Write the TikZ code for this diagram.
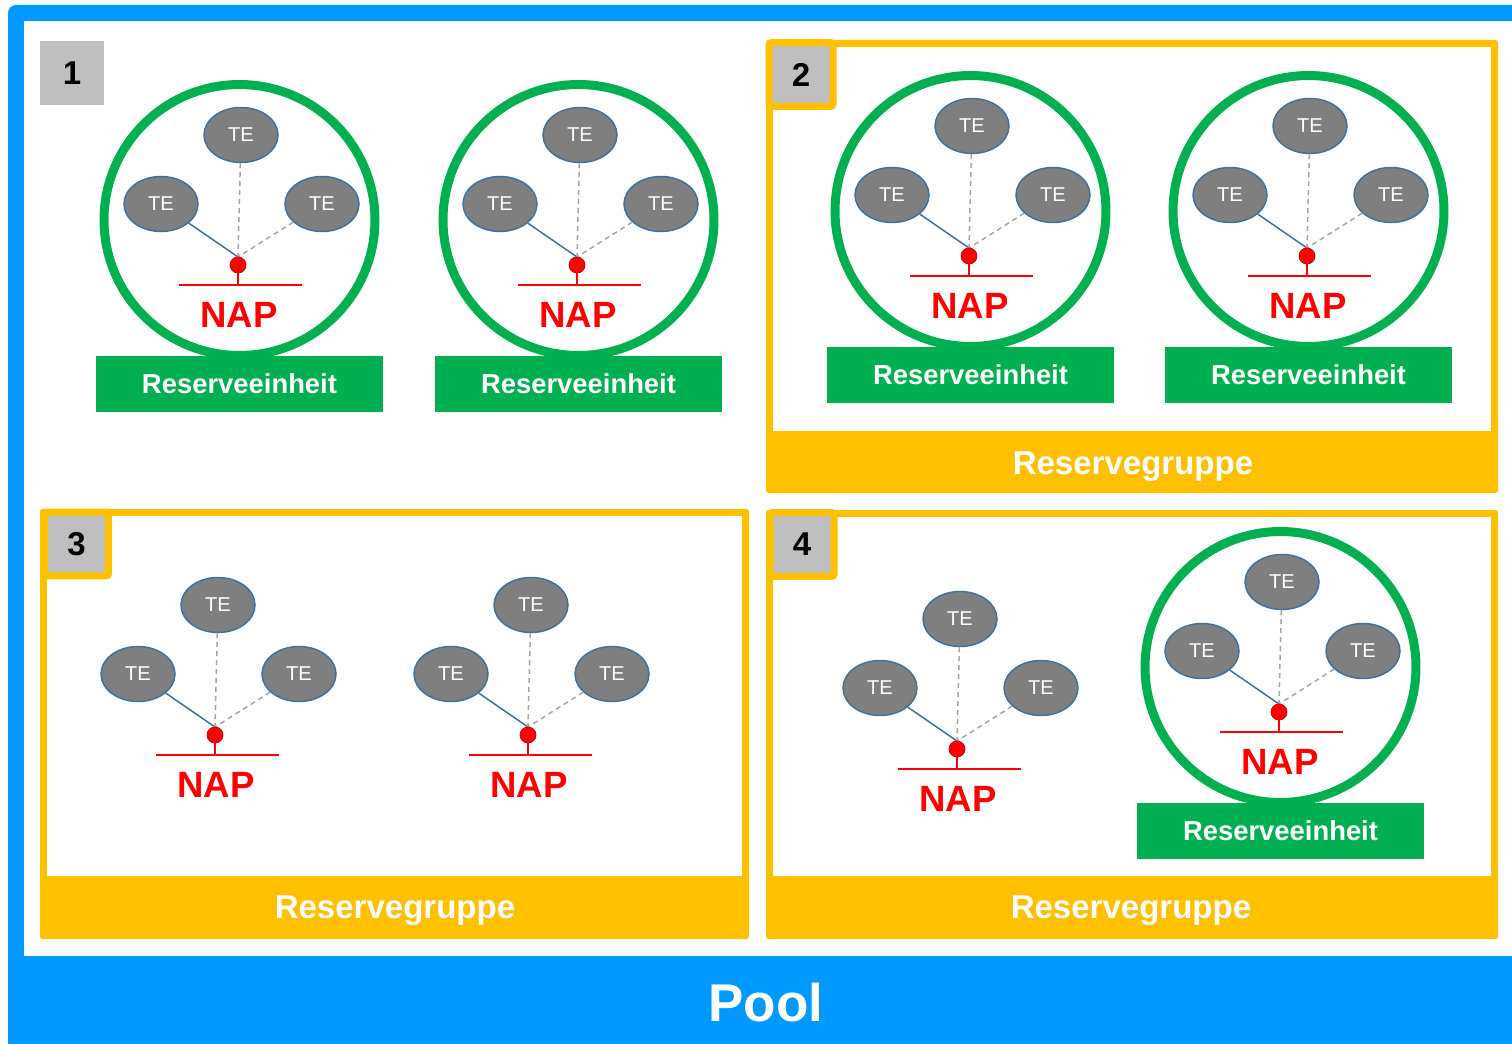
\documentclass[tikz,border=0pt]{standalone}
\usepackage{fontspec}
\setmainfont{Liberation Sans}
\usetikzlibrary{shapes.geometric}
\definecolor{poolblue}{RGB}{0,153,255}
\definecolor{yel}{RGB}{255,192,0}
\definecolor{grn}{RGB}{0,176,80}
\definecolor{boxgray}{RGB}{191,191,191}
\definecolor{tegray}{RGB}{127,127,127}
\definecolor{teblue}{RGB}{65,113,156}
\definecolor{dashgray}{RGB}{166,166,166}
\definecolor{napred}{RGB}{255,0,0}
\definecolor{darkred}{RGB}{192,0,0}
\tikzset{
  te/.style={ellipse, fill=tegray, draw=teblue, line width=0.03cm, minimum width=1.48cm, minimum height=1.1cm, inner sep=0pt, text=white, font=\fontsize{11.4}{12}\selectfont},
  napdot/.style={circle, fill=napred, draw=darkred, line width=0.4pt, minimum size=0.32cm, inner sep=0pt},
  solidlink/.style={draw=teblue, line width=0.03cm},
  dashlink/.style={draw=dashgray, line width=0.03cm, dash pattern=on 0.1cm off 0.08cm},
  napline/.style={draw=napred, line width=0.03cm},
  naptext/.style={text=napred, font=\fontsize{20.8}{22}\selectfont\bfseries, inner sep=0pt},
  ring/.style={circle, draw=grn, line width=0.18cm, minimum size=5.42cm, inner sep=0pt, fill=white},
  rebox/.style={rectangle, fill=grn, minimum width=5.74cm, minimum height=1.12cm, inner sep=0pt, text=white, font=\fontsize{15.6}{17}\selectfont\bfseries},
  numbox/.style={rectangle, fill=boxgray, minimum size=1.28cm, inner sep=0pt, font=\fontsize{18.8}{20}\selectfont\bfseries},
  numboxy/.style={numbox, draw=yel, line width=0.14cm, rounded corners=0.05cm},
  grouptext/.style={text=white, font=\fontsize{18.8}{20}\selectfont\bfseries, inner sep=0pt},
  frame/.style={fill=yel, rounded corners=0.05cm},
}
\newcommand\tetree[3]{%
  \node[te] (#1t) at (#2+3,#3-130) {TE};
  \node[te] (#1l) at (#2-77,#3-61) {TE};
  \node[te] (#1r) at (#2+84,#3-61) {TE};
  \coordinate (#1a) at (#2,#3-8);
  \coordinate (#1b) at (#2,#3+20);
  \coordinate (#1bl) at (#2-59,#3+20);
  \coordinate (#1br) at (#2+64,#3+20);
  \draw[solidlink] (#1l) -- (#1a);
  \draw[dashlink] (#1t) -- (#1a);
  \draw[dashlink] (#1r) -- (#1a);
  \draw[napline] (#1a) -- (#1b);
  \draw[napline] (#1bl) -- (#1br);
  \node[napdot] (#1d) at (#2,#3) {};
  \node[naptext] (#1n) at (#2+1,#3+50) {NAP};
}
\newcommand\reserveunit[3]{%
  \node[ring] (#1c) at (#2+1.5,#3-45) {};
  \tetree{#1}{#2}{#3}
  \node[rebox] (#1e) at (#2+1.5,#3+119) {Reserveeinheit};
}
\begin{document}
\begin{tikzpicture}[x=0.02cm,y=-0.02cm]
\useasboundingbox (0,0) rectangle (1512,1044);
% pool
\fill[poolblue, rounded corners=0.16cm] (8,5) rectangle (1600,1100);
\fill[white] (24,21) rectangle (1560,956);
\node[text=white, font=\fontsize{30.2}{32}\selectfont\bfseries, inner sep=0pt] (pool) at (766,1003) {Pool};
% panel 1
\node[numbox] (n1) at (72,73) {1};
\reserveunit{pa}{238}{265}
\reserveunit{pb}{577}{265}
% panel 2
\fill[frame] (766,40) rectangle (1498,493);
\fill[white] (773,47) rectangle (1491,431);
\node[numboxy] (n2) at (801,74.5) {2};
\node[grouptext] (g2) at (1133,467) {Reservegruppe};
\reserveunit{pc}{969}{256}
\reserveunit{pd}{1307}{256}
% panel 3
\fill[frame] (40,509) rectangle (749,939);
\fill[white] (47,516) rectangle (742,876);
\node[numboxy] (n3) at (76.5,544) {3};
\node[grouptext] (g3) at (395,911) {Reservegruppe};
\tetree{pe}{215}{735}
\tetree{pf}{528}{735}
% panel 4
\fill[frame] (766,510) rectangle (1498,939);
\fill[white] (773,517) rectangle (1491,876);
\node[numboxy] (n4) at (802,544.5) {4};
\node[grouptext] (g4) at (1131,911) {Reservegruppe};
\tetree{pg}{957}{749}
\reserveunit{ph}{1279}{712}
\end{tikzpicture}
\end{document}
